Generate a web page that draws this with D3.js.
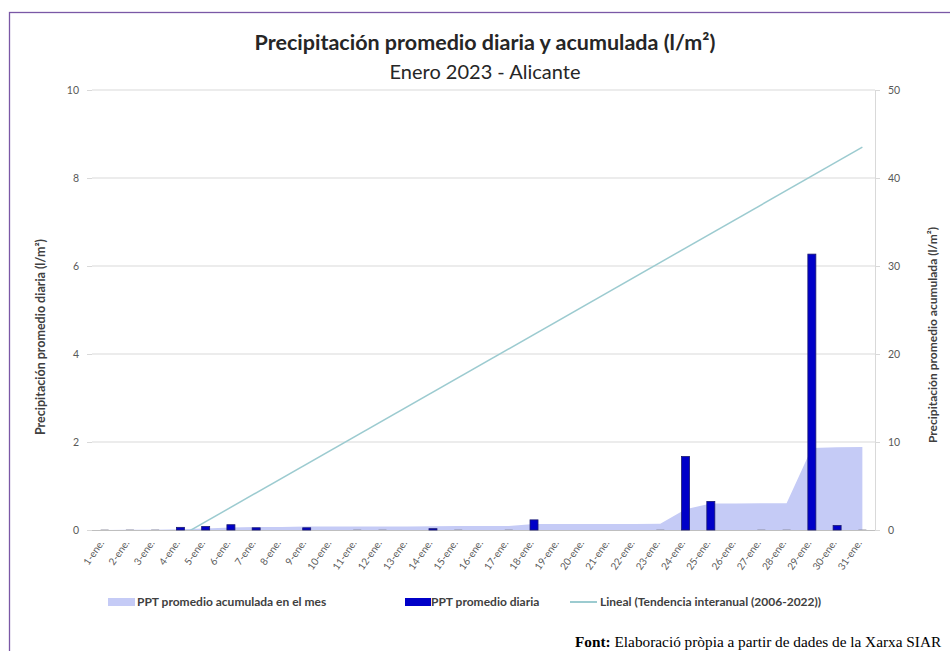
<!DOCTYPE html>
<html><head><meta charset="utf-8">
<script src="https://cdn.jsdelivr.net/npm/d3@7"></script>
<style>
html,body{margin:0;padding:0;background:#fff;overflow:hidden;}
svg{display:block;}
</style></head>
<body>
<svg id="chart" width="950" height="651"></svg>
<script>
const days = ["1-ene.","2-ene.","3-ene.","4-ene.","5-ene.","6-ene.","7-ene.","8-ene.","9-ene.","10-ene.","11-ene.","12-ene.","13-ene.","14-ene.","15-ene.","16-ene.","17-ene.","18-ene.","19-ene.","20-ene.","21-ene.","22-ene.","23-ene.","24-ene.","25-ene.","26-ene.","27-ene.","28-ene.","29-ene.","30-ene.","31-ene."];
const dailyPPT = [0.01,0.01,0.01,0.06,0.08,0.12,0.05,0,0.05,0,0.01,0.01,0,0.03,0.01,0,0.01,0.23,0,0,0,0,0.01,1.67,0.65,0,0.01,0.01,6.27,0.1,0.01];
const cumulativePPT = [0.01,0.02,0.03,0.09,0.17,0.29,0.34,0.34,0.39,0.39,0.40,0.41,0.41,0.44,0.45,0.45,0.46,0.69,0.69,0.69,0.69,0.69,0.70,2.37,3.02,3.02,3.03,3.04,9.31,9.41,9.42];
// linear trend (interannual 2006-2022), endpoints [day index, value]
const trendPoints = [[0,-5.6],[30,43.5]];
const leftTicks = [0,2,4,6,8,10];
const rightTicks = [0,10,20,30,40,50];
const legendLabels = ["PPT promedio acumulada en el mes","PPT promedio diaria","Lineal (Tendencia interanual (2006-2022))"];

const svg = d3.select("#chart");
const font = "Lato, 'Open Sans', sans-serif";
const L = 92, R = 875, T = 90, B = 530;

// frame
svg.append("rect").attr("x",9.5).attr("y",12.5).attr("width",980).attr("height",700)
  .attr("fill","none").attr("stroke","#7a58a6").attr("stroke-width",1.3);

const x = d3.scaleBand().domain(days).range([L,R]).paddingInner(0).paddingOuter(0);
const xc = d => x(d) + x.bandwidth()/2;
const yL = d3.scaleLinear().domain([0,10]).range([B,T]);
const yR = d3.scaleLinear().domain([0,50]).range([B,T]);

// gridlines
svg.append("g").selectAll("line").data(leftTicks.filter(d=>d>0)).join("line")
  .attr("x1",L).attr("x2",R).attr("y1",d=>yL(d)).attr("y2",d=>yL(d))
  .attr("stroke","#d9d9d9").attr("stroke-width",1);

// left axis
const gL = svg.append("g").attr("transform",`translate(${L},0)`)
  .call(d3.axisLeft(yL).tickValues(leftTicks).tickSize(5).tickPadding(8));
gL.select(".domain").remove();
gL.selectAll("line").attr("stroke","#d9d9d9");
gL.selectAll("text").attr("font-family",font).attr("font-size",10.5).attr("fill","#595959");

// right axis
const gR = svg.append("g").attr("transform",`translate(${R},0)`)
  .call(d3.axisRight(yR).tickValues(rightTicks).tickSize(5).tickPadding(8));
gR.select(".domain").attr("stroke","#d9d9d9");
gR.selectAll("line").attr("stroke","#d9d9d9");
gR.selectAll("text").attr("font-family",font).attr("font-size",10.5).attr("fill","#595959");

// area cumulative
const area = d3.area().x((d,i)=>xc(days[i])).y0(yR(0)).y1(d=>yR(d));
svg.append("path").datum(cumulativePPT).attr("d",area).attr("fill","#c5cbf6");

// baseline
svg.append("line").attr("x1",L).attr("x2",R).attr("y1",B+0.5).attr("y2",B+0.5).attr("stroke","#bfbfbf");

// trend line (clipped to plot)
svg.append("clipPath").attr("id","plotclip").append("rect").attr("x",L).attr("y",T).attr("width",R-L).attr("height",B-T);
const lineGen = d3.line().x(d=>xc(days[d[0]])).y(d=>yR(d[1]));
svg.append("path").datum(trendPoints).attr("d",lineGen).attr("fill","none")
  .attr("stroke","#9ccbd0").attr("stroke-width",1.5).attr("clip-path","url(#plotclip)");

// bars
const bw = 8;
svg.append("g").selectAll("rect").data(dailyPPT).join("rect")
  .attr("x",(d,i)=>xc(days[i])-bw/2).attr("width",bw)
  .attr("y",d=>yL(d)).attr("height",d=>yL(0)-yL(d))
  .attr("fill",d=>d>=0.03?"#0000c8":"#8a8a9a")
  .attr("stroke",d=>d>=0.03?"#1a1a70":"none").attr("stroke-width",0.8);

// x labels
svg.append("g").selectAll("text").data(days).join("text")
  .attr("transform",d=>`translate(${xc(d)},${B+13}) rotate(-55)`)
  .attr("text-anchor","end").attr("font-family",font).attr("font-size",10).attr("fill","#595959")
  .text(d=>d);

// titles
svg.append("text").attr("x",485).attr("y",50).attr("text-anchor","middle")
  .attr("font-family",font).attr("font-size",21.5).attr("font-weight","bold").attr("fill","#262626")
  .text("Precipitación promedio diaria y acumulada (l/m²)");
svg.append("text").attr("x",485).attr("y",79).attr("text-anchor","middle")
  .attr("font-family",font).attr("font-size",20).attr("fill","#262626")
  .text("Enero 2023 - Alicante");

svg.append("text").attr("transform","translate(45,337) rotate(-90)").attr("text-anchor","middle")
  .attr("font-family",font).attr("font-size",12.5).attr("font-weight","bold").attr("fill","#404040")
  .text("Precipitación promedio diaria (l/m²)");
svg.append("text").attr("transform","translate(937,335) rotate(-90)").attr("text-anchor","middle")
  .attr("font-family",font).attr("font-size",12).attr("font-weight","bold").attr("fill","#404040")
  .text("Precipitación promedio acumulada (l/m²)");

// legend
const lg = svg.append("g").attr("font-family",font).attr("font-size",12).attr("font-weight","bold").attr("fill","#404040");
lg.append("rect").attr("x",108).attr("y",598).attr("width",27).attr("height",8).attr("fill","#c5cbf6");
lg.append("text").attr("x",137).attr("y",606).text(legendLabels[0]);
lg.append("rect").attr("x",405).attr("y",598).attr("width",26).attr("height",8).attr("fill","#0000c8");
lg.append("text").attr("x",431).attr("y",606).text(legendLabels[1]);
lg.append("line").attr("x1",570).attr("x2",597).attr("y1",602).attr("y2",602).attr("stroke","#9ccbd0").attr("stroke-width",2);
lg.append("text").attr("x",600).attr("y",606).text(legendLabels[2]);

// source
const src = svg.append("text").attr("x",575).attr("y",647).attr("font-family","'Liberation Serif', 'Times New Roman', serif").attr("font-size",15.3).attr("fill","#000");
src.append("tspan").attr("font-weight","bold").text("Font:");
src.append("tspan").text(" Elaboració pròpia a partir de dades de la Xarxa SIAR");
</script>
</body></html>
